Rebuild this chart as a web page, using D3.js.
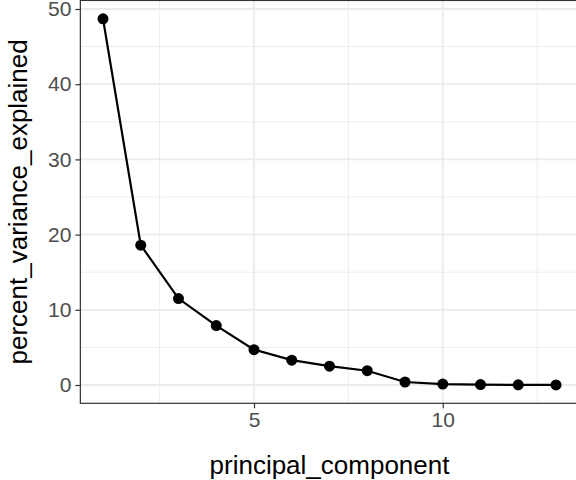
<!DOCTYPE html><html><head><script src="https://cdn.jsdelivr.net/npm/d3@7"></script>
<style>body{margin:0;background:#fff;overflow:hidden}</style></head><body><script>
const components=[1,2,3,4,5,6,7,8,9,10,11,12,13];
const variance=[48.7,18.6,11.5,7.9,4.7,3.3,2.5,1.9,0.4,0.12,0.05,0.02,0.01];
const xTicks=[5,10], yTicks=[0,10,20,30,40,50];
const W=576,H=480;
const svg=d3.select("body").append("svg").attr("width",W).attr("height",H).style("font-family","Liberation Sans, Arial");
const x=d3.scaleLinear().domain([1,13]).range([103,556]);
const y=d3.scaleLinear().domain([0,50]).range([385,9]);
const L=x(0.4),R=x(13.6),T=y(51.135),B=y(-2.435);
[2.5,7.5,12.5].forEach(v=>svg.append("line").attr("x1",x(v)).attr("x2",x(v)).attr("y1",T).attr("y2",B).attr("stroke","#ebebeb").attr("stroke-width",0.9));
[5,15,25,35,45].forEach(v=>svg.append("line").attr("y1",y(v)).attr("y2",y(v)).attr("x1",L).attr("x2",R).attr("stroke","#ebebeb").attr("stroke-width",0.9));
xTicks.forEach(v=>svg.append("line").attr("x1",x(v)).attr("x2",x(v)).attr("y1",T).attr("y2",B).attr("stroke","#ebebeb").attr("stroke-width",1.8));
yTicks.forEach(v=>svg.append("line").attr("y1",y(v)).attr("y2",y(v)).attr("x1",L).attr("x2",R).attr("stroke","#ebebeb").attr("stroke-width",1.8));
const line=d3.line().x((d,i)=>x(components[i])).y(d=>y(d));
svg.append("path").attr("d",line(variance)).attr("fill","none").attr("stroke","#000").attr("stroke-width",2.2);
svg.selectAll("circle.p").data(variance).enter().append("circle").attr("cx",(d,i)=>x(components[i])).attr("cy",d=>y(d)).attr("r",5.5).attr("fill","#000");
svg.append("rect").attr("x",L).attr("y",T).attr("width",R-L).attr("height",B-T).attr("fill","none").attr("stroke","#333").attr("stroke-width",1.2);
const xa=svg.append("g").attr("transform",`translate(0,${B})`).call(d3.axisBottom(x).tickValues(xTicks).tickSize(5).tickPadding(4));
const ya=svg.append("g").attr("transform",`translate(${L},0)`).call(d3.axisLeft(y).tickValues(yTicks).tickSize(5).tickPadding(4));
[xa,ya].forEach(a=>{a.select(".domain").remove();a.selectAll("line").attr("stroke","#333").attr("stroke-width",1.2);a.selectAll("text").attr("fill","#4d4d4d").style("font-size","21px").style("font-family","Liberation Sans, Arial");});
svg.append("text").attr("x",(L+R)/2).attr("y",474).attr("text-anchor","middle").style("font-size","26px").text("principal_component");
svg.append("text").attr("transform",`translate(27,${(T+B)/2}) rotate(-90)`).attr("text-anchor","middle").style("font-size","26px").text("percent_variance_explained");
</script></body></html>
